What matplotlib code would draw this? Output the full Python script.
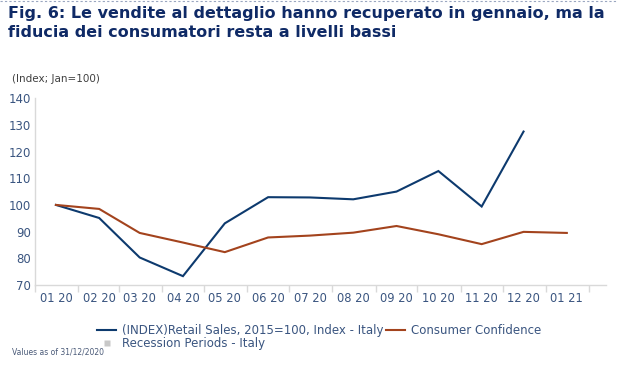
import matplotlib
matplotlib.use("Agg")
import matplotlib.pyplot as plt
import matplotlib.dates as mdates
from matplotlib.lines import Line2D
import pandas as pd

# data (Index; Jan=100)
months = pd.date_range("2020-01-01", periods=13, freq="MS") + pd.Timedelta(days=15)
retail = [100, 95.1, 80.3, 73.3, 93.1, 102.9, 102.8, 102.1, 105.0, 112.7, 99.4, 127.5]
confidence = [100, 98.5, 89.5, 85.9, 82.3, 87.8, 88.5, 89.6, 92.1, 89.0, 85.3, 89.9, 89.5]
yticks = [70, 80, 90, 100, 110, 120, 130, 140]

navy = "#0d3a6e"
rust = "#a3431d"
label_col = "#3a5580"
title_col = "#0f2a66"
grid_col = "#d9d9d9"

fig = plt.figure(figsize=(6.17, 3.72), dpi=100)
ax = fig.add_axes([0.0567, 0.234, 0.9253, 0.502])

ax.plot(months[:len(retail)], retail, color=navy, lw=1.5, solid_joinstyle="miter")
ax.plot(months[:len(confidence)], confidence, color=rust, lw=1.5, solid_joinstyle="miter")

ax.set_ylim(70, 140)
ax.set_yticks(yticks)
ax.set_xlim(pd.Timestamp("2020-01-01"), pd.Timestamp("2021-02-13"))

# month boundaries as ticks, labels centred mid-month
ax.xaxis.set_major_locator(mdates.MonthLocator())
ax.xaxis.set_major_formatter(plt.NullFormatter())
ax.xaxis.set_minor_locator(mdates.MonthLocator(bymonthday=16))
ax.xaxis.set_minor_formatter(mdates.DateFormatter("%m %y"))
ax.tick_params(axis="x", which="major", length=5, color=grid_col, width=1)
ax.tick_params(axis="x", which="minor", length=0, labelsize=8.3, labelcolor=label_col, pad=5)
ax.tick_params(axis="y", length=0, labelsize=8.5, labelcolor=label_col, pad=3)

for s in ["top", "right"]:
    ax.spines[s].set_visible(False)
for s in ["left", "bottom"]:
    ax.spines[s].set_color(grid_col)
    ax.spines[s].set_linewidth(1)

# title
fig.text(0.013, 0.985, "Fig. 6: Le vendite al dettaglio hanno recuperato in gennaio, ma la\n"
         "fiducia dei consumatori resta a livelli bassi",
         ha="left", va="top", fontsize=11.5, fontweight="bold", color=title_col,
         linespacing=1.4)
fig.add_artist(Line2D([0, 1], [0.998, 0.998], transform=fig.transFigure,
                      color="#9aa6c0", lw=0.8, ls=(0, (2, 2))))

fig.text(0.019, 0.787, "(Index; Jan=100)", fontsize=7.5, color="#404040", ha="left", va="center")

handles = [Line2D([], [], color=navy, lw=1.5),
           Line2D([], [], ls="none", marker="s", markersize=4.5, color="#c8c8c8",
                  markeredgecolor="none"),
           Line2D([], [], color=rust, lw=1.5)]
labels = ["(INDEX)Retail Sales, 2015=100, Index - Italy", "Recession Periods - Italy",
          "Consumer Confidence"]
leg = fig.legend(handles, labels, ncol=2, loc="upper left", bbox_to_anchor=(0.148, 0.145),
                 frameon=False, fontsize=8.5, handlelength=1.6, handletextpad=0.5,
                 columnspacing=0.2, labelspacing=0.0, borderpad=0)
for t in leg.get_texts():
    t.set_color(label_col)

fig.text(0.019, 0.054, "Values as of 31/12/2020", fontsize=5.5, color="#4a5a78",
         ha="left", va="center")

fig.savefig("out.png", dpi=100)
